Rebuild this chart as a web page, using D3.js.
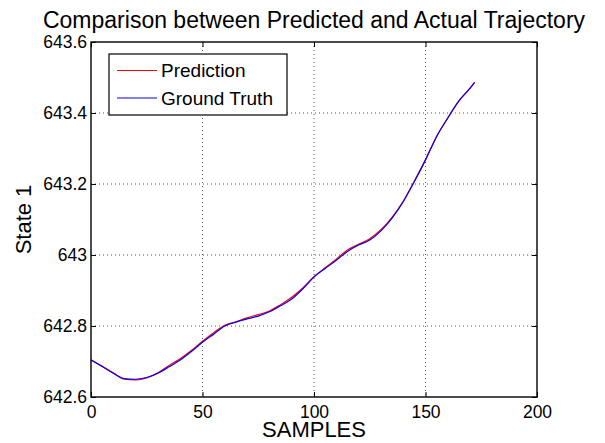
<!DOCTYPE html>
<html>

<head>
	<meta charset="utf-8">
	<style>
		body {
			margin: 0;
			background: #fff;
			font-family: "Liberation Sans", Arial, sans-serif;
		}

		.grid line {
			stroke: #555;
			stroke-width: 1;
			stroke-dasharray: 1, 3;
		}
	</style>
	<title>Comparison between Predicted and Actual Trajectory</title>
</head>

<body>
	<script src="https://cdn.jsdelivr.net/npm/d3@7"></script>
	<script>

		// values
		var samples = [0, 5, 10, 15, 20, 25, 30, 35, 40, 45, 50, 55, 60, 65, 70, 75, 80, 85,
			90, 95, 100, 105, 110, 115, 120, 125, 130, 135, 140, 145, 150, 155, 160, 165, 170, 172];

		var ground_truth = [642.704, 642.686, 642.667, 642.652, 642.650, 642.655, 642.667, 642.685,
			642.704, 642.728, 642.754, 642.777, 642.800, 642.811, 642.820, 642.828, 642.840, 642.857,
			642.876, 642.905, 642.938, 642.962, 642.985, 643.010, 643.028, 643.042, 643.068, 643.104,
			643.150, 643.207, 643.268, 643.334, 643.386, 643.434, 643.470, 643.486];

		var prediction = [642.705, 642.687, 642.668, 642.650, 642.648, 642.654, 642.668, 642.689,
			642.708, 642.731, 642.757, 642.781, 642.802, 642.812, 642.823, 642.832, 642.842, 642.860,
			642.881, 642.907, 642.939, 642.964, 642.988, 643.014, 643.030, 643.046, 643.071, 643.106,
			643.151, 643.208, 643.268, 643.334, 643.386, 643.434, 643.470, 643.486];

		var x_ticks = [0, 50, 100, 150, 200];
		var y_ticks = [642.6, 642.8, 643, 643.2, 643.4, 643.6];

		var series = [
			{ name: "Prediction", color: "#ff0000", values: prediction },
			{ name: "Ground Truth", color: "#0000ff", values: ground_truth }
		];

		var margin = { top: 42, right: 68, bottom: 46, left: 91 },
			width = 605 - margin.left - margin.right,
			height = 443 - margin.top - margin.bottom;

		var x = d3.scaleLinear().domain([0, 200]).range([0, width]);
		var y = d3.scaleLinear().domain([642.6, 643.6]).range([height, 0]);

		var svg = d3.select("body").append("svg")
			.attr("width", 605)
			.attr("height", 443)
			.append("g")
			.attr("transform", "translate(" + margin.left + "," + margin.top + ")");

		// grid
		svg.append("g").attr("class", "grid")
			.selectAll("line").data(x_ticks.slice(1, -1)).enter().append("line")
			.attr("x1", d => x(d)).attr("x2", d => x(d))
			.attr("y1", 0).attr("y2", height);

		svg.append("g").attr("class", "grid")
			.selectAll("line").data(y_ticks.slice(1, -1)).enter().append("line")
			.attr("y1", d => y(d)).attr("y2", d => y(d))
			.attr("x1", 0).attr("x2", width);

		// lines
		var line = d3.line()
			.x((d, i) => x(samples[i]))
			.y(d => y(d))
			.curve(d3.curveMonotoneX);

		svg.selectAll(".series").data(series).enter().append("path")
			.attr("fill", "none")
			.attr("stroke", d => d.color)
			.attr("stroke-width", 1.2)
			.attr("d", d => line(d.values));

		// axes, ticks inward like matlab
		var fmt = d => String(+d.toFixed(1));
		var tick_style = g => {
			g.select(".domain").remove();
			g.selectAll("line").attr("stroke", "#000");
			g.selectAll("text").attr("fill", "#000")
				.style("font-family", "'Liberation Sans', Arial, sans-serif")
				.style("font-size", "17.5px");
		};

		svg.append("g")
			.attr("transform", "translate(0," + height + ")")
			.call(d3.axisBottom(x).tickValues(x_ticks).tickSizeInner(-5).tickSizeOuter(0).tickPadding(9))
			.call(tick_style);

		svg.append("g")
			.call(d3.axisTop(x).tickValues(x_ticks).tickSizeInner(-5).tickSizeOuter(0).tickFormat(""))
			.call(tick_style);

		svg.append("g")
			.call(d3.axisLeft(y).tickValues(y_ticks).tickFormat(fmt).tickSizeInner(-5).tickSizeOuter(0).tickPadding(4))
			.call(tick_style);

		svg.append("g")
			.attr("transform", "translate(" + width + ",0)")
			.call(d3.axisRight(y).tickValues(y_ticks).tickSizeInner(-5).tickSizeOuter(0).tickFormat(""))
			.call(tick_style);

		// frame
		svg.append("rect")
			.attr("width", width).attr("height", height)
			.attr("fill", "none").attr("stroke", "#000").attr("stroke-width", 1.4);

		// legend
		var legend = svg.append("g").attr("transform", "translate(18,12)");
		legend.append("rect")
			.attr("width", 178).attr("height", 61)
			.attr("fill", "#fff").attr("stroke", "#000").attr("stroke-width", 1.2);

		var items = legend.selectAll(".item").data(series).enter().append("g")
			.attr("transform", (d, i) => "translate(0," + (16.5 + i * 27.5) + ")");
		items.append("line")
			.attr("x1", 8).attr("x2", 48)
			.attr("stroke", d => d.color).attr("stroke-width", 1.1);
		items.append("text")
			.attr("x", 52).attr("dy", "0.35em")
			.style("font-size", "19px")
			.text(d => d.name);

		// labels
		svg.append("text")
			.attr("x", width / 2).attr("y", -14)
			.attr("text-anchor", "middle")
			.style("font-size", "23px")
			.text("Comparison between Predicted and Actual Trajectory");

		svg.append("text")
			.attr("x", width / 2).attr("y", height + 40)
			.attr("text-anchor", "middle")
			.style("font-size", "22px")
			.text("SAMPLES");

		svg.append("text")
			.attr("transform", "rotate(-90)")
			.attr("x", -height / 2).attr("y", -60)
			.attr("text-anchor", "middle")
			.style("font-size", "22px")
			.text("State 1");
	</script>
</body>

</html>
